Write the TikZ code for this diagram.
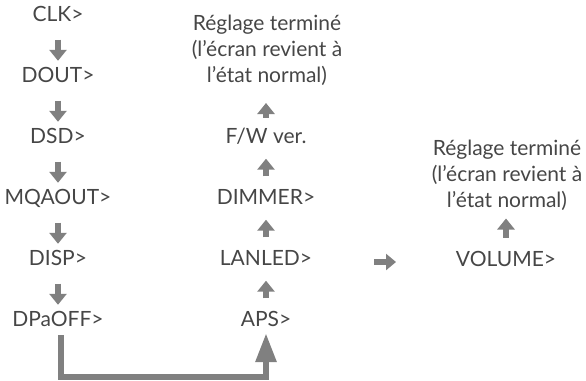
\documentclass[tikz,border=0pt]{standalone}
\usepackage{fontspec}
\setmainfont{Lato}
\usetikzlibrary{arrows.meta}

\definecolor{arrowgray}{RGB}{128,128,128}
\definecolor{textgray}{RGB}{70,70,70}

\tikzset{
  menu/.style={inner sep=0pt, text height=13pt, text depth=0pt, text=textgray,
    font=\fontsize{21}{26}\selectfont},
  note/.style={inner sep=0pt, align=center, text=textgray,
    font=\fontsize{21}{26}\selectfont},
  flow/.style={draw=arrowgray, line width=6.5pt, -{Triangle[width=17pt,length=11pt]}},
  down/.style={flow, shorten <=18pt, shorten >=8.5pt},
  up/.style={flow, shorten <=15pt, shorten >=15pt},
  back/.style={draw=arrowgray, line width=6pt, -{Triangle[width=20pt,length=29pt]}},
}

\begin{document}
\begin{tikzpicture}[x=1pt, y=1pt]
    \useasboundingbox (0,0) rectangle (586,-380);

    % left column
    \node[menu] (clk)  at (58,-15)  {CLK>};
    \node[menu] (dout) at (58,-76)  {DOUT>};
    \node[menu] (dsd)  at (58,-137) {DSD>};
    \node[menu] (mqa)  at (58,-198) {MQAOUT>};
    \node[menu] (disp) at (58,-259) {DISP>};
    \node[menu] (dpa)  at (58,-320) {DPaOFF>};

    % middle column
    \node[note, anchor=south] (done1) at (267,-86) {Réglage terminé\\(l’écran revient à\\l’état normal)};
    \node[menu] (fw)  at (266,-137) {F/W ver.};
    \node[menu] (dim) at (266,-198) {DIMMER>};
    \node[menu] (lan) at (266,-259) {LANLED>};
    \node[menu] (aps) at (266,-320) {APS>};

    % right column
    \node[note, anchor=south] (done2) at (507,-211) {Réglage terminé\\(l’écran revient à\\l’état normal)};
    \node[menu] (vol) at (506,-260) {VOLUME>};

    \draw[down] (clk) -- (dout);
    \draw[down] (dout) -- (dsd);
    \draw[down] (dsd) -- (mqa);
    \draw[down] (mqa) -- (disp);
    \draw[down] (disp) -- (dpa);

    \draw[up] (aps) -- (lan);
    \draw[up] (lan) -- (dim);
    \draw[up] (dim) -- (fw);
    \draw[flow, shorten <=12.5pt, shorten >=17pt] (fw) -- (fw |- done1.south);
    \draw[flow, shorten <=15.5pt, shorten >=7.5pt] (vol) -- (vol |- done2.south);

    \coordinate (bend1) at (61,-377);
    \coordinate (bend2) at (266,-377);
    \draw[back, shorten <=8.5pt, shorten >=6.5pt] (dpa.south -| bend1) -- (bend1) -- (bend2) -- (aps.south);

    \coordinate (next) at (374,-262);
    \draw[flow, -{Triangle[width=16pt,length=10pt]}] (next) -- ++(22,0);

  \end{tikzpicture}
\end{document}
